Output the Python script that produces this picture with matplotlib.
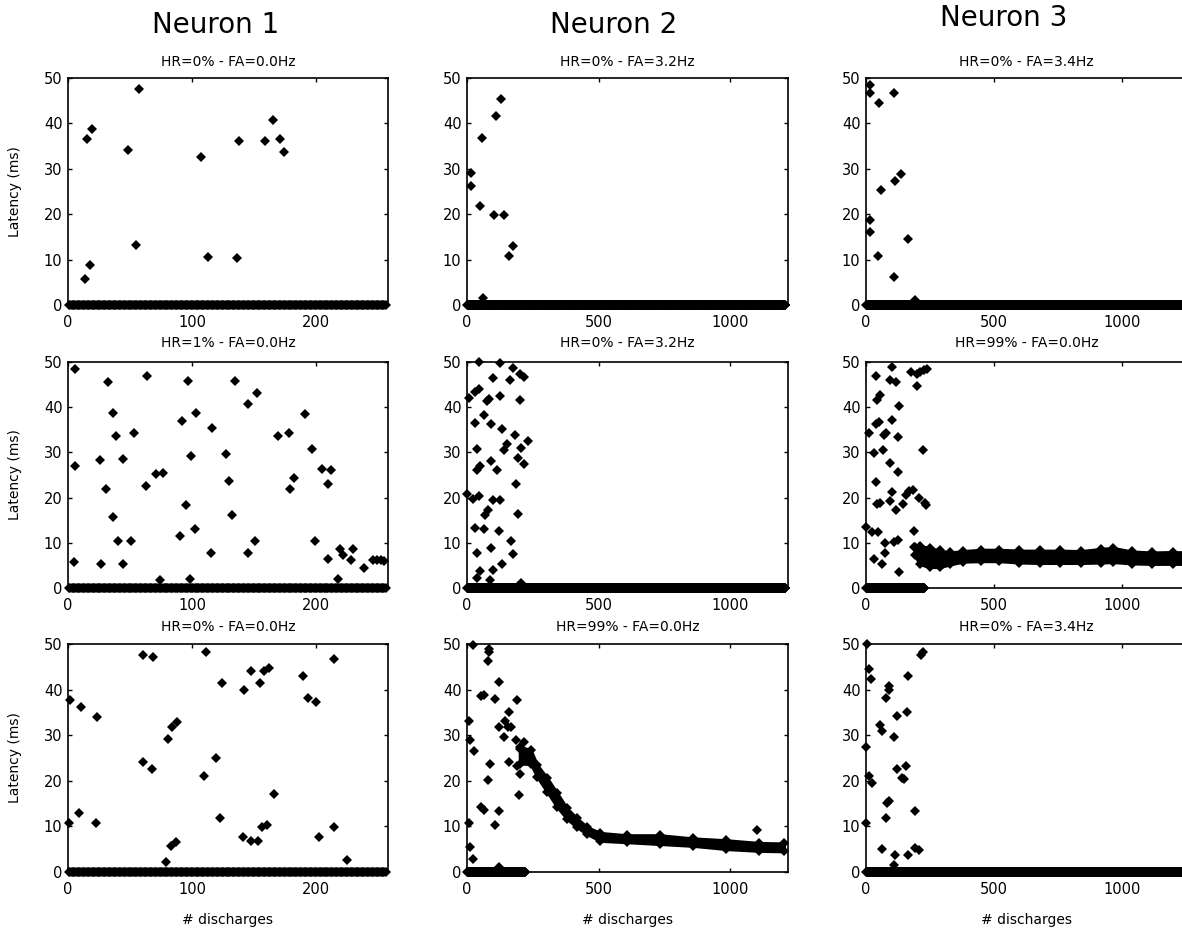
import numpy as np
import matplotlib.pyplot as plt

# titles
neurons = ['Neuron 1', 'Neuron 2', 'Neuron 3']
subtitles = [
    ['HR=0% - FA=0.0Hz', 'HR=0% - FA=3.2Hz', 'HR=0% - FA=3.4Hz'],
    ['HR=1% - FA=0.0Hz', 'HR=0% - FA=3.2Hz', 'HR=99% - FA=0.0Hz'],
    ['HR=0% - FA=0.0Hz', 'HR=99% - FA=0.0Hz', 'HR=0% - FA=3.4Hz'],
]
x_max = [258, 1220, 1255]
x_ticks = [[0, 100, 200], [0, 500, 1000], [0, 500, 1000]]
# last discharge index of the run of zero-latency points, per row / column
zero_end = [
    [256, 1210, 1250],
    [256, 1210, 227],
    [256, 222, 1250],
]

# responses (discharge #, latency ms) per panel: row 1
r1c1_x = [15, 19.5, 13.5, 17.6, 48, 57, 55, 107, 113, 136, 138, 159, 165, 171, 174]
r1c1_y = [36.5, 38.8, 5.7, 8.8, 34.2, 47.6, 13.2, 32.6, 10.6, 10.3, 36.1, 36.1, 40.7, 36.5, 33.8]
r1c2_x = [15, 15, 51, 57, 59, 104, 142, 111, 130, 158, 173]
r1c2_y = [29, 26.3, 21.8, 36.7, 1.6, 19.9, 19.9, 41.7, 45.4, 10.7, 13.1]
r1c3_x = [17, 17, 52, 111, 59, 115, 137, 14, 17, 46, 163, 108, 193]
r1c3_y = [48.5, 46.8, 44.6, 46.8, 25.4, 27.4, 28.9, 18.8, 16.1, 10.7, 14.5, 6.1, 1.1]

# row 2
r2c1_x = [6, 6, 5, 26, 27, 32, 31, 36.5, 36, 39, 40, 44, 44, 51, 53, 63, 64, 71, 76.5, 74,
          90.5, 92, 95, 96.5, 98, 99, 102, 103.5, 115, 116, 127, 130, 132, 135, 145, 145,
          150.5, 152, 169, 178, 179, 182, 191, 197, 199, 205, 209.5, 210, 212, 217.6, 219,
          221.6, 228, 230, 239, 246, 249, 252, 255]
r2c1_y = [48.4, 27.1, 5.8, 28.3, 5.4, 45.5, 21.8, 38.8, 15.7, 33.6, 10.3, 28.6, 5.4, 10.3,
          34.4, 22.6, 46.9, 25.3, 25.5, 1.7, 11.4, 36.9, 18.4, 45.7, 2.1, 29.1, 13, 38.8, 7.7,
          35.4, 29.7, 23.6, 16.1, 45.7, 7.7, 40.8, 10.5, 43.1, 33.6, 34.3, 21.8, 24.4, 38.4,
          30.8, 10.3, 26.3, 23.1, 6.5, 26, 2.1, 8.7, 7.4, 6.1, 8.7, 4.5, 6.1, 6.1, 6.3, 6.0]
r2c2_x = [44, 127, 175, 203, 215, 99, 165, 9, 32, 44, 76, 82, 127, 200, 32, 66, 91, 133, 152,
          139, 181, 230, 206, 38, 92, 114, 51, 38, 192, 215, 0, 23, 44, 97, 127, 186, 194, 78,
          70, 32, 66, 123, 167, 175, 38, 92, 133, 99, 51, 38, 89, 205]
r2c2_y = [50, 49.8, 48.7, 47.4, 46.7, 46.5, 46.1, 42, 43.4, 44, 41.3, 41.9, 42.4, 41.5, 36.6,
          38.2, 36.2, 35.1, 31.9, 30.5, 33.9, 32.5, 31, 30.8, 28, 26.2, 27, 26, 28.8, 27.4,
          20.7, 19.8, 20.3, 19.5, 19.5, 22.9, 16.4, 17.2, 16.1, 13.3, 13, 12.6, 10.4, 7.6,
          7.7, 8.8, 5.4, 3.9, 3.8, 2.3, 1.8, 1.0]
r2c3_x = [10, 1, 23, 46, 33, 63, 73, 76, 108, 125, 128, 39, 43, 54, 39, 50, 33, 65, 39, 43,
          56, 72, 80, 102, 93, 119, 102, 128, 125, 93, 124, 102, 93, 117, 145, 158, 167, 183,
          187, 174, 200, 213, 226, 239, 200, 222, 206, 232, 235, 187, 200]
r2c3_y = [34.4, 13.4, 12.3, 12.3, 6.5, 5.4, 7.8, 10, 10.2, 10.7, 3.6, 47, 41.6, 42.8, 36.3,
          36.8, 29.8, 30.5, 23.4, 18.5, 18.9, 33.9, 34.2, 49, 46.1, 45.5, 37.1, 40.2, 33.4,
          27.6, 25.7, 21.3, 19.2, 17.2, 18.5, 20.6, 21.5, 21.7, 12.6, 47.8, 47.4, 47.7, 48.3,
          48.4, 44.7, 30.5, 20, 18.9, 18.3, 9.1, 8.7]

# row 3
r3c1_x = [1.4, 0.5, 10.3, 8.9, 23.5, 22.2, 60.3, 68.9, 60.3, 67.6, 80.5, 83.8, 87.8, 78.9,
          83, 87.3, 111.4, 109.5, 119.7, 123.8, 122.2, 141.9, 141.4, 147.3, 147.8, 153.5,
          154.9, 156.2, 158.1, 160.3, 162.2, 166.2, 189.7, 193.8, 200, 202.7, 214.3, 214.3,
          224.9]
r3c1_y = [37.8, 10.7, 36.2, 12.9, 34.0, 10.7, 47.5, 47.1, 24.2, 22.6, 29.1, 31.7, 32.9, 2.3,
          5.7, 6.6, 48.3, 21.1, 24.9, 41.5, 11.8, 40.0, 7.6, 6.9, 44, 6.9, 41.5, 9.8, 44, 10.3,
          44.8, 17, 42.9, 38.2, 37.3, 7.6, 46.7, 9.8, 2.7]
r3c2_x = [6, 10, 25, 6, 13, 22, 22, 82, 82, 80, 63, 53, 105, 120, 123, 139, 158, 146, 155,
          168, 158, 190, 86, 80, 53, 63, 120, 108, 199, 203, 190, 187, 123, 203, 215, 1101]
r3c2_y = [33.1, 29, 26.5, 10.8, 5.5, 2.9, 49.8, 49, 48.2, 46.3, 38.8, 38.6, 37.9, 41.7, 31.9,
          29.7, 35, 33.1, 31.7, 31.7, 24.1, 37.8, 23.6, 20.2, 14.3, 13.5, 13.3, 10.4, 16.9,
          21.6, 23.2, 29, 1.0, 26.9, 28.5, 9.3]
r3c3_x = [4, 10, 21, 1, 10, 23, 1, 56, 63, 63, 80, 89, 89, 82, 89, 80, 108, 121, 161, 163,
          121, 141, 148, 158, 115, 108, 163, 193, 193, 206, 215, 223]
r3c3_y = [50, 44.6, 42.3, 27.5, 21, 19.5, 10.7, 32.2, 31, 5, 38.1, 40.8, 40, 15.1, 15.5, 11.8,
          29.7, 34.3, 35, 42.9, 22.5, 20.6, 20.3, 23.2, 3.8, 1.6, 3.8, 13.4, 5.2, 4.9, 47.6,
          48.3]

# dense response band (upper / lower line of marker centres)
band_n3_x = [190, 211, 250, 289, 330, 380, 450, 520, 600, 680, 760, 840, 920, 966, 1040,
             1120, 1200, 1255]
band_n3_hi = [9.0, 9.3, 8.9, 8.3, 7.9, 8.2, 8.5, 8.5, 8.3, 8.3, 8.3, 8.2, 8.7, 8.9, 8.1, 7.9,
              8.0, 7.9]
band_n3_lo = [7.2, 5.2, 4.6, 4.6, 5.2, 5.8, 5.9, 5.9, 5.6, 5.5, 5.5, 5.5, 5.6, 5.7, 5.4, 5.3,
              5.3, 5.3]
band_n2_x = [200, 242, 267, 305, 343, 380, 418, 456, 506, 607, 733, 859, 985, 1111, 1205]
band_n2_hi = [27.5, 26.8, 23.5, 20.6, 17.3, 14.0, 11.8, 9.9, 8.6, 8.1, 8.1, 7.4, 7.0, 6.4, 6.3]
band_n2_lo = [23.7, 23.7, 20.8, 17.5, 14.2, 11.6, 9.8, 8.3, 6.8, 6.5, 6.1, 5.7, 5.0, 4.6, 4.5]

points = [
    [(r1c1_x, r1c1_y), (r1c2_x, r1c2_y), (r1c3_x, r1c3_y)],
    [(r2c1_x, r2c1_y), (r2c2_x, r2c2_y), (r2c3_x, r2c3_y)],
    [(r3c1_x, r3c1_y), (r3c2_x, r3c2_y), (r3c3_x, r3c3_y)],
]
bands = {(1, 2): (band_n3_x, band_n3_lo, band_n3_hi),
         (2, 1): (band_n2_x, band_n2_lo, band_n2_hi)}

W, H = 1182, 930
fig = plt.figure(figsize=(W / 100, H / 100), dpi=100)
plt.rcParams['font.family'] = 'DejaVu Sans'

col_left = [68, 467, 866]
col_width = [320, 321, 321]
row_top = [78, 362, 644]
row_height = [227, 226, 228]
sub_y = [62, 343, 627]

mk = dict(linestyle='none', marker='D', ms=5.4, mew=0, color='black', clip_on=False)

for r in range(3):
    for c in range(3):
        ax = fig.add_axes([col_left[c] / W, 1 - (row_top[r] + row_height[r]) / H,
                           col_width[c] / W, row_height[r] / H])
        zx = np.arange(1, zero_end[r][c] + 1)
        ax.plot(zx, np.zeros(len(zx)), **mk)
        px, py = points[r][c]
        ax.plot(px, py, **mk)
        if (r, c) in bands:
            bx, lo, hi = bands[(r, c)]
            ax.fill_between(bx, lo, hi, color='black', lw=2)
            ax.plot(bx, hi, **mk)
            ax.plot(bx, lo, **mk)
        ax.set_xlim(0, x_max[c])
        ax.set_ylim(0, 50)
        ax.set_xticks(x_ticks[c])
        ax.set_yticks([0, 10, 20, 30, 40, 50])
        ax.tick_params(direction='in', length=3, width=1, top=True, right=True,
                       labelsize=10.5, pad=4)
        ax.tick_params(axis='x', pad=7)
        for s in ax.spines.values():
            s.set_linewidth(1.2)
        cx = (col_left[c] + col_width[c] / 2) / W
        fig.text(cx, 1 - sub_y[r] / H, subtitles[r][c], ha='center', va='center', fontsize=10)
        if c == 0:
            fig.text(15 / W, 1 - (row_top[r] + row_height[r] / 2) / H, 'Latency (ms)',
                     rotation=90, ha='center', va='center', fontsize=10)
        if r == 2:
            fig.text(cx, 1 - 920 / H, '# discharges', ha='center', va='center', fontsize=10)

title_pos = [(216, 25), (614, 25), (1004, 18)]
for name, (tx, ty) in zip(neurons, title_pos):
    fig.text(tx / W, 1 - ty / H, name, ha='center', va='center', fontsize=20)

fig.savefig('out.png', dpi=100)
